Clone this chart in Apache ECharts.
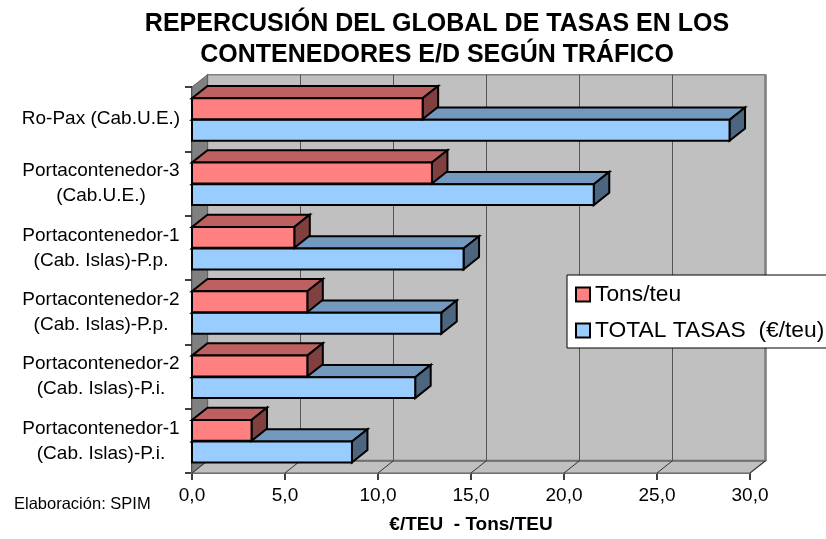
<!DOCTYPE html>
<html>
<head>
<meta charset="utf-8">
<script src="https://cdn.jsdelivr.net/npm/echarts@6/dist/echarts.min.js"></script>
<style>
  html, body { margin: 0; padding: 0; background: #fff; }
  #chart { width: 826px; height: 539px; }
</style>
</head>
<body>
<div id="chart"></div>
<script>
// data
const categories = [
  "Ro-Pax (Cab.U.E.)",
  "Portacontenedor-3\n(Cab.U.E.)",
  "Portacontenedor-1\n(Cab. Islas)-P.p.",
  "Portacontenedor-2\n(Cab. Islas)-P.p.",
  "Portacontenedor-2\n(Cab. Islas)-P.i.",
  "Portacontenedor-1\n(Cab. Islas)-P.i."
];
const tonsTeu = [12.4, 12.9, 5.5, 6.2, 6.2, 3.2];
const totalTasas = [28.9, 21.6, 14.6, 13.4, 12.0, 8.6];
const xTicks = [0, 5, 10, 15, 20, 25, 30];

const FONT = "'Liberation Sans', Arial, sans-serif";
// 3d depth offset
const DX = 15.5, DY = -12.3;

const chart = echarts.init(document.getElementById("chart"));

// walls / floor of the 3d box
function renderWalls(params, api) {
  const cs = params.coordSys;
  const L = cs.x, T = cs.y, R = cs.x + cs.width, B = cs.y + cs.height;
  const children = [];
  // back wall
  children.push({
    type: "rect",
    shape: { x: L + DX, y: T + DY, width: R - L, height: B - T },
    style: { fill: "#C0C0C0", stroke: "#808080", lineWidth: 1.5 }
  });
  // side wall
  children.push({
    type: "polygon",
    shape: { points: [[L, T], [L + DX, T + DY], [L + DX, B + DY], [L, B]] },
    style: { fill: "#808080", stroke: "#606060", lineWidth: 1 }
  });
  // floor
  children.push({
    type: "polygon",
    shape: { points: [[L, B], [L + DX, B + DY], [R + DX, B + DY], [R, B]] },
    style: { fill: "#C0C0C0", stroke: "#808080", lineWidth: 1.5 }
  });
  // right edge of back wall (thicker)
  children.push({
    type: "line",
    shape: { x1: R + DX, y1: T + DY, x2: R + DX, y2: B + DY },
    style: { stroke: "#808080", lineWidth: 2.5 }
  });
  // floor back edge
  children.push({
    type: "line",
    shape: { x1: L + DX, y1: B + DY, x2: R + DX, y2: B + DY },
    style: { stroke: "#707070", lineWidth: 2 }
  });
  xTicks.forEach(function (v) {
    const x = api.coord([v, 0])[0];
    if (v > xTicks[0] && v < xTicks[xTicks.length - 1]) {
      children.push({
        type: "line",
        shape: { x1: x + DX, y1: T + DY, x2: x + DX, y2: B + DY },
        style: { stroke: "#555", lineWidth: 1 }
      });
    }
    children.push({
      type: "line",
      shape: { x1: x, y1: B, x2: x + DX, y2: B + DY },
      style: { stroke: "#303030", lineWidth: 1 }
    });
  });
  return { type: "group", children: children };
}

function makeBarRenderer(front, top, side, upper) {
  return function (params, api) {
    const v = api.value(0);
    const c = api.value(1);
    const p0 = api.coord([0, c]);
    const p1 = api.coord([v, c]);
    const band = api.size([0, 1])[1];
    const h = band * 0.325;
    const y0 = upper ? p0[1] - h : p0[1] + 0.7;
    const y1 = y0 + h;
    const x0 = p0[0], x1 = p1[0];
    const line = { stroke: "#000", lineWidth: 2, lineJoin: "miter" };
    return {
      type: "group",
      children: [
        {
          type: "polygon",
          shape: { points: [[x0, y0], [x1, y0], [x1 + DX, y0 + DY], [x0 + DX, y0 + DY]] },
          style: Object.assign({ fill: top }, line)
        },
        {
          type: "polygon",
          shape: { points: [[x1, y0], [x1 + DX, y0 + DY], [x1 + DX, y1 + DY], [x1, y1]] },
          style: Object.assign({ fill: side }, line)
        },
        {
          type: "rect",
          shape: { x: x0, y: y0, width: x1 - x0, height: h },
          style: Object.assign({ fill: front }, line)
        }
      ]
    };
  };
}

const option = {
  animation: false,
  backgroundColor: "#fff",
  title: {
    text: "REPERCUSIÓN DEL GLOBAL DE TASAS EN LOS\nCONTENEDORES E/D SEGÚN TRÁFICO",
    left: 432,
    top: 4,
    textAlign: "center",
    textStyle: {
      fontFamily: FONT,
      fontSize: 25,
      fontWeight: "bold",
      color: "#000",
      lineHeight: 31
    }
  },
  graphic: [
    {
      type: "text",
      left: 14,
      top: 496,
      style: { text: "Elaboración: SPIM", font: "16.5px " + FONT, fill: "#000" }
    }
  ],
  legend: {
    data: ["Tons/teu", "TOTAL TASAS  (€/teu)"],
    orient: "vertical",
    left: 567,
    top: 275,
    icon: "rect",
    itemWidth: 14,
    itemHeight: 14,
    itemGap: 13,
    padding: [8, 12, 6, 8],
    backgroundColor: "#fff",
    borderColor: "#000",
    borderWidth: 1,
    borderRadius: 0,
    itemStyle: { borderColor: "#000", borderWidth: 2 },
    textStyle: { fontFamily: FONT, fontSize: 22.8, color: "#000", lineHeight: 22 }
  },
  grid: { left: 192, right: 76, top: 87, bottom: 64, containLabel: false },
  xAxis: {
    type: "value",
    min: 0,
    max: 30,
    interval: 5,
    name: "€/TEU  - Tons/TEU",
    nameLocation: "middle",
    nameGap: 42,
    nameTextStyle: { fontFamily: FONT, fontSize: 19, fontWeight: "bold", color: "#000" },
    axisLine: { show: true, lineStyle: { color: "#000", width: 1.5 } },
    axisTick: { show: true, length: 7, lineStyle: { color: "#000", width: 1.5 } },
    splitLine: { show: false },
    axisLabel: {
      fontFamily: FONT,
      fontSize: 19,
      color: "#000",
      margin: 13,
      formatter: function (v) { return v.toFixed(1).replace(".", ","); }
    }
  },
  yAxis: {
    type: "category",
    inverse: true,
    data: categories,
    axisLine: { show: true, lineStyle: { color: "#000", width: 1.5 } },
    axisTick: { show: true, length: 7, lineStyle: { color: "#000", width: 1.5 } },
    splitLine: { show: false },
    axisLabel: {
      fontFamily: FONT,
      fontSize: 19,
      color: "#000",
      align: "center",
      lineHeight: 25,
      margin: 91
    }
  },
  series: [
    {
      name: "walls",
      type: "custom",
      renderItem: renderWalls,
      data: [[0, 0]],
      encode: { x: 0, y: 1 },
      silent: true,
      z: 1
    },
    {
      name: "TOTAL TASAS  (€/teu)",
      type: "custom",
      renderItem: makeBarRenderer("#99CCFF", "#7399BF", "#4D6680", false),
      itemStyle: { color: "#99CCFF", borderColor: "#000", borderWidth: 2 },
      data: totalTasas.map(function (v, i) { return [v, i]; }),
      encode: { x: 0, y: 1 },
      z: 2
    },
    {
      name: "Tons/teu",
      type: "custom",
      renderItem: makeBarRenderer("#FF8080", "#BF6060", "#804040", true),
      itemStyle: { color: "#FF8080", borderColor: "#000", borderWidth: 2 },
      data: tonsTeu.map(function (v, i) { return [v, i]; }),
      encode: { x: 0, y: 1 },
      z: 3
    }
  ]
};

chart.setOption(option);
</script>
</body>
</html>
